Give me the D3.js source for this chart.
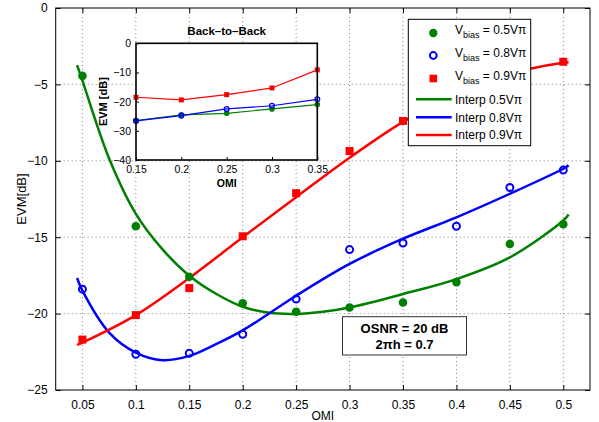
<!DOCTYPE html>
<html>
<head>
<meta charset="utf-8">
<script src="https://cdn.jsdelivr.net/npm/d3@7"></script>
<style>
  body { margin: 0; background: #fff; }
  svg { font-family: "Liberation Sans", Arial, sans-serif; }
</style>
</head>
<body>
<div id="chart"></div>
<script>
// measured points (OMI vs EVM)
var omi = [0.05, 0.1, 0.15, 0.2, 0.25, 0.3, 0.35, 0.4, 0.45, 0.5];
var evm05 = [-4.44, -14.28, -17.59, -19.33, -19.88, -19.6, -19.27, -17.94, -15.44, -14.15];
var evm08 = [-18.4, -22.66, -22.6, -21.35, -19.05, -15.81, -15.38, -14.28, -11.75, -10.61];
var evm09 = [-21.7, -20.1, -18.33, -14.94, -12.12, -9.36, -7.39, -5.9, -4.6, -3.52];

// interpolated curves
var fitOmi05 = [0.045, 0.05, 0.075, 0.1, 0.125, 0.15, 0.175, 0.2, 0.225, 0.25, 0.275, 0.3, 0.35, 0.4, 0.45, 0.5, 0.505];
var fit05 = [-3.74, -4.75, -9.85, -13.47, -15.8, -17.52, -18.7, -19.55, -19.95, -20.02, -19.88, -19.6, -18.72, -17.74, -16.32, -13.91, -13.52];
var fitOmi08 = [0.045, 0.05, 0.075, 0.1, 0.125, 0.15, 0.175, 0.2, 0.25, 0.3, 0.35, 0.4, 0.45, 0.5, 0.505];
var fit08 = [-17.67, -18.5, -21.24, -22.55, -23.05, -22.77, -22.0, -21.1, -18.83, -16.75, -15.1, -13.7, -12.16, -10.52, -10.3];
var fitOmi09 = [0.045, 0.05, 0.1, 0.15, 0.2, 0.25, 0.3, 0.35, 0.4, 0.45, 0.47, 0.5, 0.505];
var fit09 = [-22.05, -21.9, -20.1, -17.67, -15.0, -12.38, -9.8, -7.45, -5.6, -4.3, -3.96, -3.59, -3.55];

// back-to-back inset
var b2bOmi = [0.15, 0.2, 0.25, 0.3, 0.35];
var b2b05 = [-26.5, -24.5, -24.0, -22.5, -21.0];
var b2b08 = [-26.6, -24.8, -22.5, -21.4, -19.2];
var b2b09 = [-18.5, -19.4, -17.6, -15.3, -9.1];

var xTicks = [0.05, 0.1, 0.15, 0.2, 0.25, 0.3, 0.35, 0.4, 0.45, 0.5];
var yTicks = [-25, -20, -15, -10, -5, 0];
var insetXTicks = [0.15, 0.2, 0.25, 0.3, 0.35];
var insetYTicks = [-40, -30, -20, -10, 0];

var GREEN = "#008000", BLUE = "#0000ff", RED = "#ff0000";

var W = 599, H = 422;
var svg = d3.select("#chart").append("svg")
  .attr("width", W)
  .attr("height", H);

var fmt = function(d) { return String(d).replace("-", "\u2212"); };

//-- main axes --//
var x = d3.scaleLinear().domain([0.025, 0.525]).range([55.7, 590]);
var y = d3.scaleLinear().domain([-25, 0]).range([390, 8]);

// grid
var grid = svg.append("g").attr("class", "grid")
  .attr("stroke", "#666").attr("stroke-width", 0.8).attr("stroke-dasharray", "1,3");
grid.selectAll(".gx").data(xTicks).enter().append("line")
  .attr("x1", function(d) { return x(d); }).attr("x2", function(d) { return x(d); })
  .attr("y1", y(-25)).attr("y2", y(0));
grid.selectAll(".gy").data(yTicks.slice(1, -1)).enter().append("line")
  .attr("y1", function(d) { return y(d); }).attr("y2", function(d) { return y(d); })
  .attr("x1", x(0.025)).attr("x2", x(0.525));

// axes with inward ticks
var xAxis = d3.axisBottom(x).tickValues(xTicks).tickSize(-5).tickPadding(10).tickFormat(fmt);
var yAxis = d3.axisLeft(y).tickValues(yTicks).tickSize(-5).tickPadding(8).tickFormat(fmt);

function styleAxis(g) {
  g.select(".domain").remove();
  g.selectAll("line").attr("stroke", "#000");
  g.selectAll("text").attr("fill", "#000").attr("font-size", 12)
    .attr("font-family", "Liberation Sans, Arial, sans-serif");
}

svg.append("g").attr("transform", "translate(0," + y(-25) + ")").call(xAxis).call(styleAxis);
svg.append("g").attr("transform", "translate(" + x(0.025) + ",0)").call(yAxis).call(styleAxis);
svg.append("g").attr("transform", "translate(0," + y(0) + ")")
  .call(d3.axisTop(x).tickValues(xTicks).tickSize(-5).tickFormat(""))
  .call(styleAxis);
svg.append("g").attr("transform", "translate(" + x(0.525) + ",0)")
  .call(d3.axisRight(y).tickValues(yTicks).tickSize(-5).tickFormat(""))
  .call(styleAxis);

svg.append("rect")
  .attr("x", x(0.025)).attr("y", y(0))
  .attr("width", x(0.525) - x(0.025)).attr("height", y(-25) - y(0))
  .attr("fill", "none").attr("stroke", "#000").attr("stroke-width", 1);

// axis labels
svg.append("text").attr("x", (x(0.025) + x(0.525)) / 2).attr("y", 420)
  .attr("text-anchor", "middle").attr("font-size", 12).text("OMI");
svg.append("text")
  .attr("transform", "translate(26," + (y(-12.5)) + ") rotate(-90)")
  .attr("text-anchor", "middle").attr("font-size", 13).text("EVM[dB]");

//-- fitted curves --//
var line = d3.line().curve(d3.curveCatmullRom)
  .x(function(d) { return x(d[0]); })
  .y(function(d) { return y(d[1]); });

var fits = [
  {xs: fitOmi05, ys: fit05, color: GREEN},
  {xs: fitOmi08, ys: fit08, color: BLUE},
  {xs: fitOmi09, ys: fit09, color: RED}
];
svg.selectAll(".fit").data(fits).enter().append("path")
  .attr("class", "fit")
  .attr("d", function(f) { return line(d3.zip(f.xs, f.ys)); })
  .attr("fill", "none")
  .attr("stroke", function(f) { return f.color; })
  .attr("stroke-width", 2.5);

//-- measured markers --//
svg.selectAll(".p05").data(d3.zip(omi, evm05)).enter().append("circle")
  .attr("cx", function(d) { return x(d[0]); }).attr("cy", function(d) { return y(d[1]); })
  .attr("r", 4.3).attr("fill", GREEN);
svg.selectAll(".p08").data(d3.zip(omi, evm08)).enter().append("circle")
  .attr("cx", function(d) { return x(d[0]); }).attr("cy", function(d) { return y(d[1]); })
  .attr("r", 3.5).attr("fill", "none").attr("stroke", BLUE).attr("stroke-width", 2);
svg.selectAll(".p09").data(d3.zip(omi, evm09)).enter().append("rect")
  .attr("x", function(d) { return x(d[0]) - 4; }).attr("y", function(d) { return y(d[1]) - 4; })
  .attr("width", 8).attr("height", 8).attr("fill", RED);

//-- inset: back-to-back --//
var ix = d3.scaleLinear().domain([0.15, 0.35]).range([136, 317.3]);
var iy = d3.scaleLinear().domain([-40, 0]).range([160, 43.3]);
var inset = svg.append("g").attr("class", "inset");

inset.append("rect")
  .attr("x", ix(0.15)).attr("y", iy(0))
  .attr("width", ix(0.35) - ix(0.15)).attr("height", iy(-40) - iy(0))
  .attr("fill", "#fff");

function styleInset(g) {
  g.select(".domain").remove();
  g.selectAll("line").attr("stroke", "#000");
  g.selectAll("text").attr("fill", "#000").attr("font-size", 10.5)
    .attr("font-family", "Liberation Sans, Arial, sans-serif");
}
inset.append("g").attr("transform", "translate(0," + iy(-40) + ")")
  .call(d3.axisBottom(ix).tickValues(insetXTicks).tickSize(-3).tickPadding(6).tickFormat(fmt))
  .call(styleInset);
inset.append("g").attr("transform", "translate(" + ix(0.15) + ",0)")
  .call(d3.axisLeft(iy).tickValues(insetYTicks).tickSize(-3).tickPadding(5).tickFormat(fmt))
  .call(styleInset);

var iline = d3.line()
  .x(function(d) { return ix(d[0]); })
  .y(function(d) { return iy(d[1]); });

var b2b = [
  {ys: b2b05, color: GREEN, mark: "dot"},
  {ys: b2b08, color: BLUE, mark: "ring"},
  {ys: b2b09, color: RED, mark: "square"}
];
b2b.forEach(function(s) {
  var pts = d3.zip(b2bOmi, s.ys);
  inset.append("path").attr("d", iline(pts))
    .attr("fill", "none").attr("stroke", s.color).attr("stroke-width", 1.2);
  if (s.mark === "square") {
    inset.selectAll(null).data(pts).enter().append("rect")
      .attr("x", function(d) { return ix(d[0]) - 2.5; }).attr("y", function(d) { return iy(d[1]) - 2.5; })
      .attr("width", 5).attr("height", 5).attr("fill", s.color);
  } else {
    inset.selectAll(null).data(pts).enter().append("circle")
      .attr("cx", function(d) { return ix(d[0]); }).attr("cy", function(d) { return iy(d[1]); })
      .attr("r", s.mark === "dot" ? 2.8 : 2.4)
      .attr("fill", s.mark === "dot" ? s.color : "none")
      .attr("stroke", s.color).attr("stroke-width", s.mark === "dot" ? 0 : 1.3);
  }
});

inset.append("rect")
  .attr("x", ix(0.15)).attr("y", iy(0))
  .attr("width", ix(0.35) - ix(0.15)).attr("height", iy(-40) - iy(0))
  .attr("fill", "none").attr("stroke", "#000").attr("stroke-width", 1.6);

inset.append("text").attr("x", (ix(0.15) + ix(0.35)) / 2).attr("y", 35)
  .attr("text-anchor", "middle").attr("font-size", 11.5).attr("font-weight", "bold")
  .text("Back\u2013to\u2013Back");
inset.append("text").attr("x", (ix(0.15) + ix(0.35)) / 2).attr("y", 187)
  .attr("text-anchor", "middle").attr("font-size", 10.5).attr("font-weight", "bold")
  .text("OMI");
inset.append("text")
  .attr("transform", "translate(107," + ((iy(0) + iy(-40)) / 2) + ") rotate(-90)")
  .attr("text-anchor", "middle").attr("font-size", 11).attr("font-weight", "bold")
  .text("EVM [dB]");

//-- legend --//
var legend = svg.append("g").attr("class", "legend");
legend.append("rect")
  .attr("x", 408.3).attr("y", 19.3).attr("width", 122.4).attr("height", 126.4)
  .attr("fill", "#fff").attr("stroke", "#000").attr("stroke-width", 1);

var legMarks = [
  {label: "0.5V\u03c0", color: GREEN, mark: "dot", y: 33},
  {label: "0.8V\u03c0", color: BLUE, mark: "ring", y: 55.5},
  {label: "0.9V\u03c0", color: RED, mark: "square", y: 78.5}
];
legMarks.forEach(function(m) {
  if (m.mark === "square") {
    legend.append("rect").attr("x", 429.5).attr("y", m.y - 3.8).attr("width", 7.6).attr("height", 7.6).attr("fill", m.color);
  } else if (m.mark === "dot") {
    legend.append("circle").attr("cx", 433.3).attr("cy", m.y).attr("r", 4.2).attr("fill", m.color);
  } else {
    legend.append("circle").attr("cx", 433.3).attr("cy", m.y).attr("r", 3.4)
      .attr("fill", "none").attr("stroke", m.color).attr("stroke-width", 2);
  }
  var t = legend.append("text").attr("x", 455).attr("y", m.y + 1).attr("font-size", 12);
  t.append("tspan").text("V");
  t.append("tspan").attr("font-size", 9).attr("dy", 4).text("bias");
  t.append("tspan").attr("dy", -4).text(" = " + m.label);
});

var legLines = [
  {label: "Interp 0.5V\u03c0", color: GREEN, y: 99.3},
  {label: "Interp 0.8V\u03c0", color: BLUE, y: 117.3},
  {label: "Interp 0.9V\u03c0", color: RED, y: 135}
];
legLines.forEach(function(m) {
  legend.append("line").attr("x1", 416).attr("x2", 451.7).attr("y1", m.y).attr("y2", m.y)
    .attr("stroke", m.color).attr("stroke-width", 2.5);
  legend.append("text").attr("x", 455).attr("y", m.y + 4.3).attr("font-size", 12).text(m.label);
});

//-- annotation --//
var note = svg.append("g").attr("class", "note");
note.append("rect")
  .attr("x", 342.5).attr("y", 316.7).attr("width", 124).attr("height", 38.3)
  .attr("fill", "#fff").attr("stroke", "#333").attr("stroke-width", 1);
note.append("text").attr("x", 404.5).attr("y", 333).attr("text-anchor", "middle")
  .attr("font-size", 13).attr("font-weight", "bold").text("OSNR = 20 dB");
note.append("text").attr("x", 404.5).attr("y", 349).attr("text-anchor", "middle")
  .attr("font-size", 13).attr("font-weight", "bold").text("2\u03c0h = 0.7");
</script>
</body>
</html>
